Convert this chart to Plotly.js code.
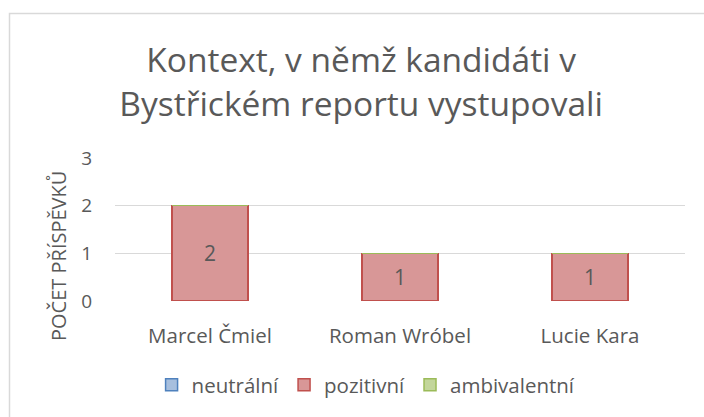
<!DOCTYPE html>
<html>
<head>
<meta charset="utf-8">
<script src="https://cdn.plot.ly/plotly-3.0.1.min.js"></script>
<style>html,body{margin:0;padding:0;background:#fff;}#chart{width:704px;height:417px;}</style>
</head>
<body>
<div id="chart"></div>
<script>
const categories = ["Marcel Čmiel", "Roman Wróbel", "Lucie Kara"];
const neutralni = [0, 0, 0];
const pozitivni = [2, 1, 1];
const ambivalentni = [0, 0, 0];
const yTicks = [0, 1, 2, 3];

const FONT = "'Open Sans', sans-serif";
const GREY = "#595959";

const traces = [
  {type: "bar", name: "neutrální", x: categories, y: neutralni,
   marker: {color: "#a7bfde", line: {color: "#4f81bd", width: 1.5}}, hoverinfo: "none"},
  {type: "bar", name: "pozitivní", x: categories, y: pozitivni,
   text: pozitivni.map(String), textposition: "inside", insidetextanchor: "middle",
   textfont: {family: FONT, size: 21, color: GREY},
   marker: {color: "#d89797", line: {color: "#c0504d", width: 1.5}}, hoverinfo: "none"},
  {type: "bar", name: "ambivalentní", x: categories, y: ambivalentni,
   marker: {color: "#c3d69b", line: {color: "#9bbb59", width: 1.5}}, hoverinfo: "none"}
];

const layout = {
  width: 704, height: 417,
  margin: {l: 115, r: 19, t: 158, b: 116},
  paper_bgcolor: "#fff", plot_bgcolor: "#fff",
  barmode: "stack", bargap: 0.6,
  showlegend: true,
  font: {family: FONT, color: GREY},
  title: {text: "Kontext, v němž kandidáti v<br>Bystřickém reportu vystupovali",
          font: {family: FONT, size: 33.5, color: GREY},
          x: 0.513, xanchor: "center", y: 1 - 72/417, yref: "container", yanchor: "middle"},
  xaxis: {type: "category", showgrid: false, zeroline: false, showline: false,
          ticks: "", ticklabelstandoff: 20, tickfont: {family: FONT, size: 20.5, color: GREY}},
  yaxis: {range: [0, 3], tickvals: yTicks, ticktext: yTicks.map(String),
          showgrid: true, gridcolor: "#d9d9d9", gridwidth: 1.5, zeroline: false, showline: false,
          ticks: "", ticklabelstandoff: 22, tickfont: {family: FONT, size: 19, color: GREY}},
  annotations: [{text: "POČET PŘÍSPĚVKŮ", textangle: -90, showarrow: false,
                 xref: "paper", yref: "paper", x: (58 - 115) / 570, y: (301 - 256) / 143,
                 xanchor: "center", yanchor: "middle",
                 font: {family: FONT, size: 20, color: GREY}}],
  legend: {orientation: "h", xref: "container", x: 0.52, xanchor: "center",
           yref: "container", y: 1 - 385/417, yanchor: "middle",
           font: {family: FONT, size: 20.5, color: GREY}, itemwidth: 30, traceorder: "normal"},
  shapes: [{type: "rect", xref: "paper", yref: "paper",
            x0: (9.5 - 115) / 570, x1: (720 - 115) / 570,
            y0: (301 - 430) / 143, y1: (301 - 13.5) / 143,
            line: {color: "#d9d9d9", width: 1.5}, fillcolor: "rgba(0,0,0,0)", layer: "below"}]
};

Plotly.newPlot("chart", traces, layout, {displayModeBar: false, staticPlot: true});
</script>
</body>
</html>
